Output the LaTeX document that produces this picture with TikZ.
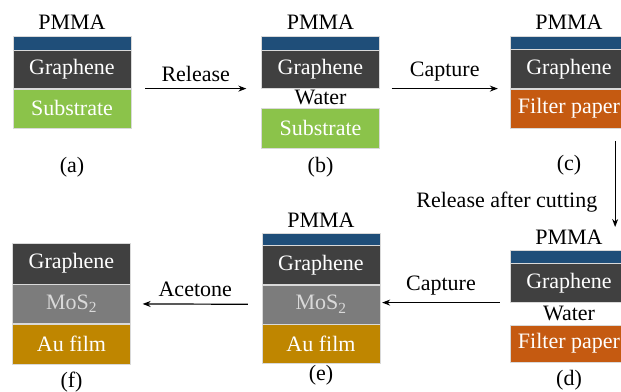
\documentclass[tikz,border=0pt]{standalone}
\usepackage{fontspec}
\setmainfont{Liberation Serif}
\usepackage{tikz}
\usetikzlibrary{arrows.meta, positioning}
\definecolor{pmmablue}{RGB}{31,78,121}
\definecolor{graphgray}{RGB}{64,64,64}
\definecolor{subgreen}{RGB}{139,195,74}
\definecolor{filterorange}{RGB}{197,90,17}
\definecolor{mosgray}{RGB}{124,124,124}
\definecolor{augold}{RGB}{191,134,0}
\tikzstyle{layer} = [rectangle, minimum width=118pt, inner sep=0pt, draw=white!85!black, line width=0.3pt, text=white, font=\fontsize{22}{25}\selectfont]
\tikzstyle{lbl} = [inner sep=0pt, font=\fontsize{22}{25}\selectfont]
\tikzstyle{arrow} = [line width=1.2pt, -{Stealth[length=8pt, width=6pt]}]

\begin{document}
\begin{tikzpicture}[x=1pt, y=-1pt, every node/.style={font=\fontsize{22}{25}\selectfont}]
  \useasboundingbox (0,0) rectangle (621,391);
  % (a)
  \node[lbl] (pmmaAt) at (72,22) {PMMA};
  \node[layer, fill=pmmablue, minimum height=14pt, anchor=north] (pmmaA) at (72,36) {};
  \node[layer, fill=graphgray, minimum height=38pt, below=0pt of pmmaA] (grA) {Graphene};
  \node[layer, fill=subgreen, minimum height=39pt, below=0pt of grA] (subA) {Substrate};
  \node[lbl] (capA) at (72,167) {(a)};
  % (b)
  \node[lbl] (pmmaBt) at (320.5,22) {PMMA};
  \node[layer, fill=pmmablue, minimum height=14pt, anchor=north] (pmmaB) at (320.5,36) {};
  \node[layer, fill=graphgray, minimum height=38pt, below=0pt of pmmaB] (grB) {Graphene};
  \node[lbl] (waterB) at (320.5,97) {Water};
  \node[layer, fill=subgreen, minimum height=40pt, anchor=north] (subB) at (320.5,108) {Substrate};
  \node[lbl] (capB) at (320.5,167) {(b)};
  % (c)
  \node[lbl] (pmmaCt) at (569,22) {PMMA};
  \node[layer, fill=pmmablue, minimum height=13pt, anchor=north] (pmmaC) at (569,36) {};
  \node[layer, fill=graphgray, minimum height=39pt, below=0pt of pmmaC] (grC) {Graphene};
  \node[layer, fill=filterorange, minimum height=39pt, below=0pt of grC] (filC) {Filter paper};
  \node[lbl] (capC) at (569,165) {(c)};
  % (d)
  \node[lbl] (pmmaDt) at (569,237) {PMMA};
  \node[layer, fill=pmmablue, minimum height=13pt, anchor=north] (pmmaD) at (569,250) {};
  \node[layer, fill=graphgray, minimum height=39pt, below=0pt of pmmaD] (grD) {Graphene};
  \node[lbl] (waterD) at (569,313) {Water};
  \node[layer, fill=filterorange, minimum height=37pt, anchor=north] (filD) at (569,325) {Filter paper};
  \node[lbl] (capD) at (569,380) {(d)};
  % (e)
  \node[lbl] (pmmaEt) at (321,220) {PMMA};
  \node[layer, fill=pmmablue, minimum height=12pt, anchor=north] (pmmaE) at (321,233) {};
  \node[layer, fill=graphgray, minimum height=39pt, below=0pt of pmmaE] (grE) {Graphene};
  \node[layer, fill=mosgray, text=white!85!black, minimum height=39pt, below=0pt of grE] (mosE) {MoS\textsubscript{2}};
  \node[layer, fill=augold, minimum height=39pt, below=0pt of mosE] (auE) {Au film};
  \node[lbl] (capE) at (321,375) {(e)};
  % (f)
  \node[layer, fill=graphgray, minimum height=41pt, anchor=north] (grF) at (71.5,243) {Graphene};
  \node[layer, fill=mosgray, text=white!85!black, minimum height=39pt, below=0pt of grF] (mosF) {MoS\textsubscript{2}};
  \node[layer, fill=augold, minimum height=40pt, below=0pt of mosF] (auF) {Au film};
  \node[lbl] (capF) at (71.5,382) {(f)};

  \draw[arrow] ([xshift=14pt]grA.south east) -- ([xshift=-15pt]grB.south west) node[midway, above=3pt]{Release};
  \draw[arrow] ([xshift=12pt]grB.south east) -- ([xshift=-12pt]grC.south west) node[midway, above=3pt]{Capture};
  \draw[arrow] ([xshift=-13pt, yshift=-13pt]filC.south east) -- ([xshift=-13pt, yshift=23pt]pmmaD.north east) node[pos=0.71, left=14pt]{Release after cutting};
  \draw[arrow] ([xshift=-10pt]grD.south west) -- ([xshift=2pt]grD.south west -| mosE.east) node[midway, above=3pt]{Capture};
  \draw[arrow] ([xshift=-14pt]mosE.west) -- ([xshift=12pt]mosF.east) node[midway, above=3pt]{Acetone};
\end{tikzpicture}
\end{document}
